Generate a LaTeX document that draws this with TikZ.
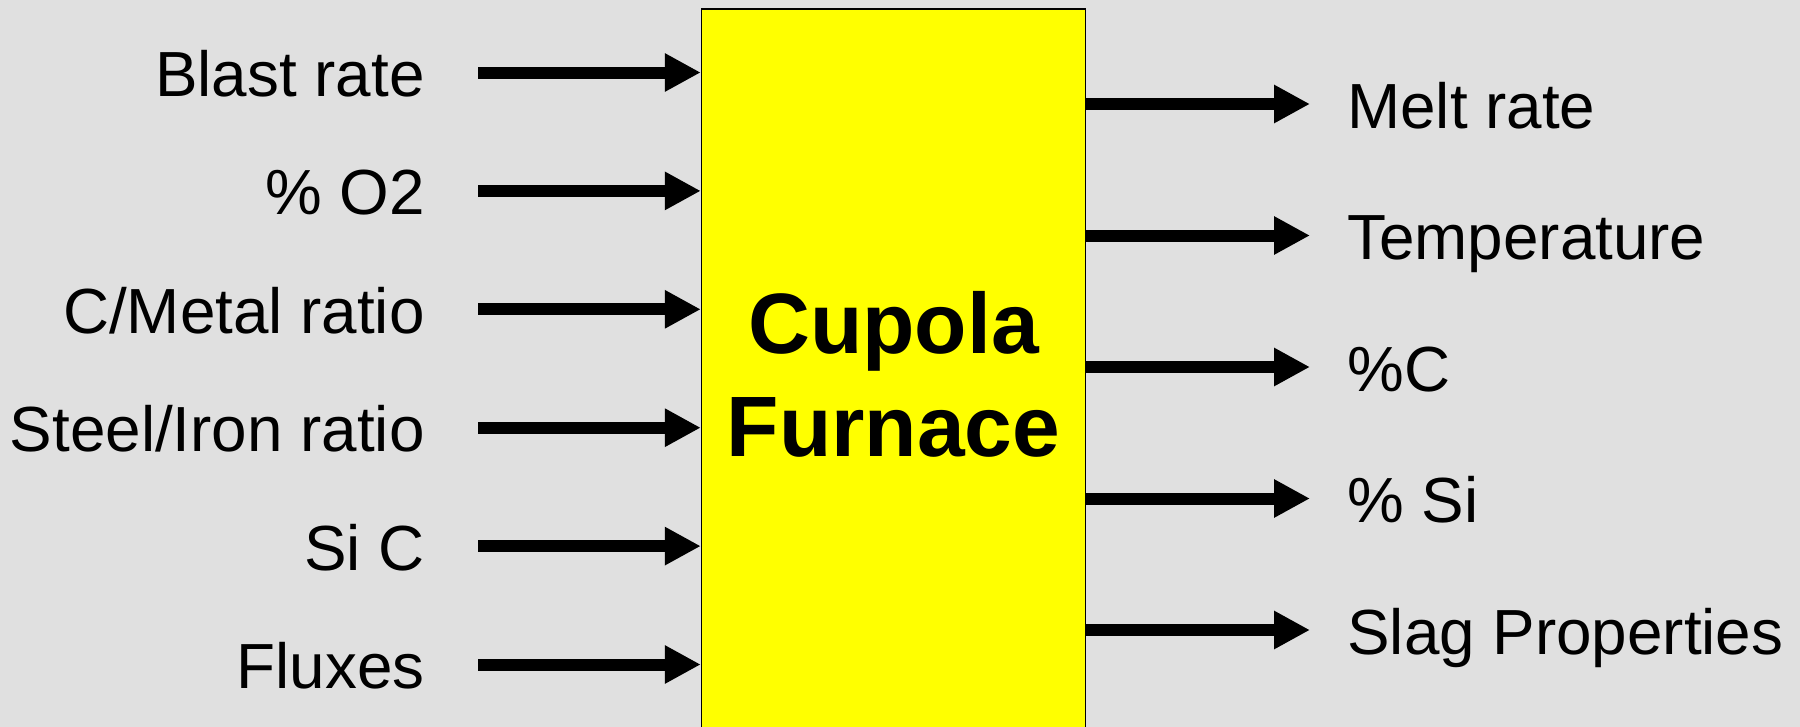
\documentclass[tikz,border=0pt]{standalone}
\usepackage{fontspec}
\setmainfont{Liberation Sans}
\usetikzlibrary{arrows.meta,positioning}
\definecolor{PanelGrey}{HTML}{E0E0E0}
\definecolor{FurnaceYellow}{HTML}{FFFF00}
\tikzset{
  % Furnace block
  furnace/.style={
    rectangle, draw=black, line width=0.85pt, fill=FurnaceYellow,
    minimum width=7.68cm, minimum height=14.6cm,
    align=center, font=\fontsize{48.8}{58.5}\selectfont\bfseries
  },
  % Input / output labels
  inlbl/.style={anchor=base east, inner sep=0pt, font=\fontsize{36.3}{42}\selectfont},
  outlbl/.style={anchor=base west, inner sep=0pt, font=\fontsize{36.3}{42}\selectfont},
  % Thick arrow
  arr/.style={
    -{Triangle[length=0.72cm,width=0.72cm]},
    line width=0.24cm, color=black
  }
}
\begin{document}
\begin{tikzpicture}[x=0.02cm, y=-0.02cm]
  \clip (0,0) rectangle (1800,727);
  \fill[PanelGrey] (0,0) rectangle (1800,727);

  \node[furnace] (cup) at (893.5,374) {Cupola\\Furnace};

  % Inputs
  \coordinate (s1) at (478,72.5);
  \coordinate (s2) at (478,190.9);
  \coordinate (s3) at (478,309.3);
  \coordinate (s4) at (478,427.7);
  \coordinate (s5) at (478,546.1);
  \coordinate (s6) at (478,664.5);
  \node[inlbl] (in1) at (425,96.5)  {Blast rate};
  \node[inlbl] (in2) at (425,214.9) {\% O2};
  \node[inlbl] (in3) at (425,333.3) {C/Metal ratio};
  \node[inlbl] (in4) at (425,451.7) {Steel/Iron ratio};
  \node[inlbl] (in5) at (425,570.1) {Si C};
  \node[inlbl] (in6) at (425,688.5) {Fluxes};
  \draw[arr] (s1) -- (cup.west |- s1);
  \draw[arr] (s2) -- (cup.west |- s2);
  \draw[arr] (s3) -- (cup.west |- s3);
  \draw[arr] (s4) -- (cup.west |- s4);
  \draw[arr] (s5) -- (cup.west |- s5);
  \draw[arr] (s6) -- (cup.west |- s6);

  % Outputs
  \coordinate (e1) at (1310,104);
  \coordinate (e2) at (1310,235.5);
  \coordinate (e3) at (1310,367);
  \coordinate (e4) at (1310,498.5);
  \coordinate (e5) at (1310,630);
  \node[outlbl] (out1) at (1347,128)   {Melt rate};
  \node[outlbl] (out2) at (1347,259.5) {Temperature};
  \node[outlbl] (out3) at (1347,391)   {\%C};
  \node[outlbl] (out4) at (1347,522.5) {\% Si};
  \node[outlbl] (out5) at (1347,654)   {Slag Properties};
  \draw[arr] (cup.east |- e1) -- (e1);
  \draw[arr] (cup.east |- e2) -- (e2);
  \draw[arr] (cup.east |- e3) -- (e3);
  \draw[arr] (cup.east |- e4) -- (e4);
  \draw[arr] (cup.east |- e5) -- (e5);
\end{tikzpicture}
\end{document}
